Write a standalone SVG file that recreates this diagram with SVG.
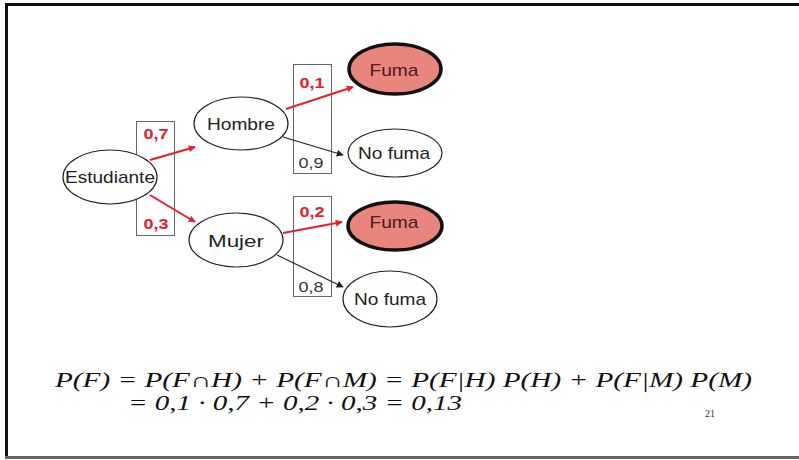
<svg xmlns="http://www.w3.org/2000/svg" width="799" height="460" viewBox="0 0 799 460">
  <defs>
    <marker id="ah-red" viewBox="0 0 10 10" refX="9" refY="5" markerWidth="7" markerHeight="7" markerUnits="userSpaceOnUse" orient="auto">
      <path d="M0,0 L10,5 L0,10 z" fill="#e3202c"/>
    </marker>
    <marker id="ah-black" viewBox="0 0 10 10" refX="9" refY="5" markerWidth="7" markerHeight="7" markerUnits="userSpaceOnUse" orient="auto">
      <path d="M0,0 L10,5 L0,10 z" fill="#222"/>
    </marker>
  </defs>
  <style>
    .node { fill: #fff; stroke: #222; stroke-width: 1.2; }
    .hit { fill: #e8857d; stroke: #111; stroke-width: 3.5; }
    .lbl { font-family: "Liberation Sans", Arial, sans-serif; font-size: 17px; fill: #222; text-anchor: middle; }
    .hitlbl { fill: #4a1c1c; }
    .pbox { fill: none; stroke: #666; stroke-width: 1; }
    .pr { font-family: "Liberation Sans", Arial, sans-serif; font-size: 15px; font-weight: bold; fill: #e3202c; }
    .pk { font-family: "Liberation Sans", Arial, sans-serif; font-size: 15px; fill: #333; }
    .red { stroke: #e3202c; stroke-width: 2; fill: none; marker-end: url(#ah-red); }
    .blk { stroke: #222; stroke-width: 1.2; fill: none; marker-end: url(#ah-black); }
    .math { font-family: "Liberation Serif", "Times New Roman", serif; font-style: italic; font-size: 20px; fill: #111; }
  </style>

  <!-- page -->
  <rect x="0" y="0" width="799" height="460" fill="#fff"/>
  <rect x="6" y="3" width="793" height="3" fill="#111"/>
  <rect x="5" y="3" width="3" height="456" fill="#111"/>
  <rect x="5" y="456" width="794" height="3" fill="#666"/>

  <!-- probability boxes -->
  <g id="prob-boxes">
    <rect class="pbox" x="136.5" y="121.5" width="38" height="114"/>
    <rect class="pbox" x="293.5" y="64.5" width="38" height="109"/>
    <rect class="pbox" x="293.5" y="196.5" width="38" height="100"/>
    <text class="pr" x="156" y="139" text-anchor="middle" textLength="25" lengthAdjust="spacingAndGlyphs">0,7</text>
    <text class="pr" x="156" y="229" text-anchor="middle" textLength="25" lengthAdjust="spacingAndGlyphs">0,3</text>
    <text class="pr" x="312" y="88" text-anchor="middle" textLength="25" lengthAdjust="spacingAndGlyphs">0,1</text>
    <text class="pk" x="311" y="168" text-anchor="middle" textLength="25" lengthAdjust="spacingAndGlyphs">0,9</text>
    <text class="pr" x="312" y="217" text-anchor="middle" textLength="25" lengthAdjust="spacingAndGlyphs">0,2</text>
    <text class="pk" x="311" y="292" text-anchor="middle" textLength="25" lengthAdjust="spacingAndGlyphs">0,8</text>
  </g>

  <!-- connectors -->
  <g id="connectors">
    <line class="red" x1="150" y1="160" x2="195" y2="147"/>
    <line class="red" x1="150" y1="195" x2="195" y2="222"/>
    <line class="red" x1="286" y1="109" x2="353" y2="87"/>
    <line class="blk" x1="283" y1="137" x2="343" y2="155"/>
    <line class="red" x1="283" y1="233" x2="342" y2="222"/>
    <line class="blk" x1="277" y1="255" x2="343" y2="287"/>
  </g>

  <g id="estudiante">
    <ellipse class="node" cx="110" cy="177" rx="47" ry="27"/>
    <text class="lbl" x="110" y="183" textLength="90" lengthAdjust="spacingAndGlyphs">Estudiante</text>
  </g>
  <g id="hombre">
    <ellipse class="node" cx="241" cy="123.5" rx="47" ry="26.5"/>
    <text class="lbl" x="241" y="130" textLength="68" lengthAdjust="spacingAndGlyphs">Hombre</text>
  </g>
  <g id="mujer">
    <ellipse class="node" cx="236" cy="240" rx="47" ry="27"/>
    <text class="lbl" x="236" y="247" textLength="56" lengthAdjust="spacingAndGlyphs">Mujer</text>
  </g>
  <g id="fuma-h">
    <ellipse class="hit" cx="395" cy="69" rx="46" ry="25"/>
    <text class="lbl hitlbl" x="394" y="76" textLength="49" lengthAdjust="spacingAndGlyphs">Fuma</text>
  </g>
  <g id="nofuma-h">
    <ellipse class="node" cx="395" cy="153" rx="47" ry="24"/>
    <text class="lbl" x="394" y="159" textLength="72" lengthAdjust="spacingAndGlyphs">No fuma</text>
  </g>
  <g id="fuma-m">
    <ellipse class="hit" cx="395" cy="226" rx="47" ry="24"/>
    <text class="lbl hitlbl" x="394" y="228" textLength="49" lengthAdjust="spacingAndGlyphs">Fuma</text>
  </g>
  <g id="nofuma-m">
    <ellipse class="node" cx="390" cy="299" rx="47" ry="28"/>
    <text class="lbl" x="390" y="305" textLength="72" lengthAdjust="spacingAndGlyphs">No fuma</text>
  </g>

  <!-- formula -->
  <g id="formula">
    <text class="math" x="55" y="387" textLength="697" lengthAdjust="spacingAndGlyphs">P(F) = P(F∩H) + P(F∩M) = P(F|H) P(H) + P(F|M) P(M)</text>
    <text class="math" x="128" y="410" textLength="334" lengthAdjust="spacingAndGlyphs">= 0,1 · 0,7 + 0,2 · 0,3 = 0,13</text>
    <text x="710" y="417" font-family="Liberation Serif, serif" font-size="10" fill="#333" text-anchor="middle">21</text>
  </g>
</svg>
